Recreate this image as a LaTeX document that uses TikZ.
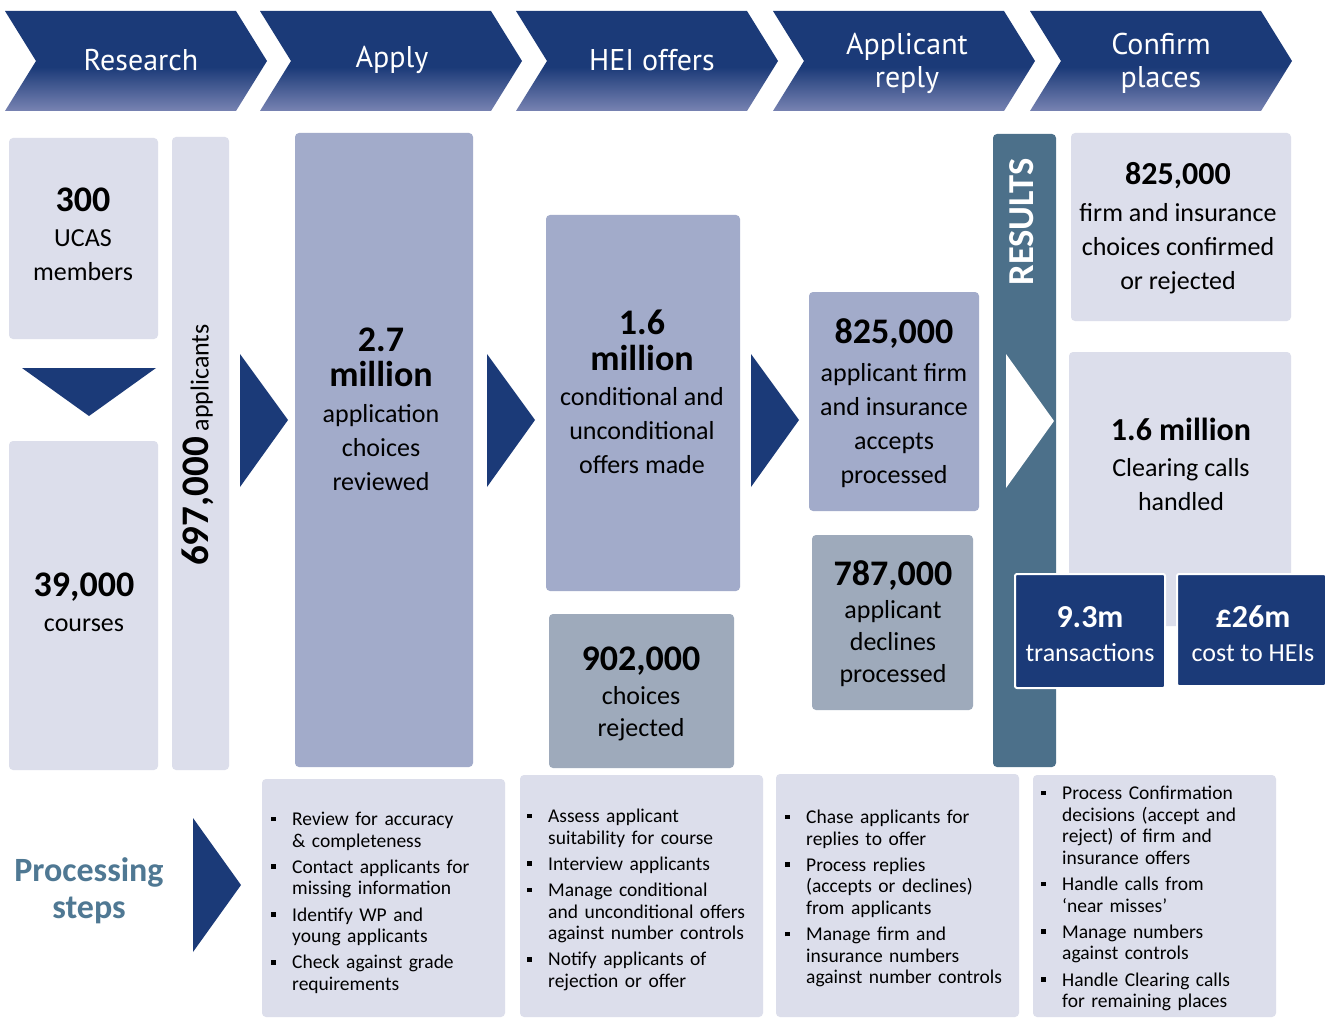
\documentclass[tikz,border=0pt]{standalone}
\usepackage{fontspec}
\setmainfont{Carlito}
\newfontfamily\hdrfont{PT Sans}

\definecolor{navy}{HTML}{1B3A78}
\definecolor{chevlo}{HTML}{7883B2}
\definecolor{lav}{HTML}{DCDEEB}
\definecolor{midlav}{HTML}{A2ABCA}
\definecolor{greyblue}{HTML}{9EAABB}
\definecolor{steel}{HTML}{4C708A}
\definecolor{steeltext}{HTML}{4F7893}

% header chevrons: solid navy on top, fading lighter towards the bottom
\pgfdeclareverticalshading{chevshade}{100bp}{color(0bp)=(chevlo); color(25bp)=(chevlo); color(47bp)=(navy); color(100bp)=(navy)}

\newcommand\chev[1]{\shade[shading=chevshade] (#1,11) -- ++(231,0) -- ++(31,50) -- ++(-31,50) -- ++(-231,0) -- ++(31,-50) -- cycle;}
\newcommand\mkbox[6]{\node[bx,fill=#2,minimum width={#5-#3},minimum height={#6-#4}] (#1) at ({(#3+#5)/2},{(#4+#6)/2}) {};}
\newcommand\bignum[1]{{\fontsize{36}{40}\selectfont\bfseries #1}}
\newcommand\midnum[1]{{\fontsize{32}{36}\selectfont\bfseries #1}}
\newcommand\pitem[1]{\par\hangindent=21pt\hangafter=1\noindent\makebox[21pt][l]{\raisebox{4.3pt}{\rule{4.5pt}{4.5pt}}}#1}

\tikzset{
  bx/.style={rounded corners=4pt, inner sep=0pt, outer sep=0pt},
  hdr/.style={text=white, font=\hdrfont\fontsize{30}{33}\selectfont, align=center, inner sep=0pt},
  stat/.style={align=center, inner sep=0pt, font=\fontsize{26}{34}\selectfont},
  statlow/.style={align=center, inner sep=0pt, font=\fontsize{26}{32}\selectfont},
  steps/.style={anchor=north west, text width=245pt, inner sep=0pt, font=\fontsize{19.5}{21.6}\selectfont},
  bluebox/.style={bx, fill=navy, draw=white, line width=2pt, rounded corners=2pt},
}

\begin{document}
\begin{tikzpicture}[x=1pt,y=-1pt]
\fill[white] (0,0) rectangle (1333,1019);
\useasboundingbox (0,0) rectangle (1333,1019);

% ---- stage header ----
\chev{5}\chev{260}\chev{516}\chev{773}\chev{1030}
\node[hdr] (h1) at (141,60) {Research};
\node[hdr] (h2) at (392,60) {Apply};
\node[hdr] (h3) at (652,60) {HEI offers};
\node[hdr] (h4) at (907,63) {Applicant\\reply};
\node[hdr] (h5) at (1161,63) {Confirm\\places};

% ---- research column ----
\mkbox{members}{lav}{9}{138}{158}{339}
\mkbox{courses}{lav}{9}{441}{158}{770}
\mkbox{applicants}{lav}{172}{137}{229}{770}
\fill[navy] (22,368) -- (156,368) -- (89,416) -- cycle;
\node[stat] (t300) at (83,234) {\bignum{300}\\[1pt]UCAS\\members};
\node[stat] (t39k) at (84,602) {\bignum{39,000}\\[1pt]courses};
\node[rotate=90, inner sep=0pt, font=\fontsize{26}{30}\selectfont] (tapp) at (198,445) {{\fontsize{39}{42}\selectfont\bfseries 697,000} applicants};
\fill[navy] (240,354) -- (288,420) -- (240,487) -- cycle;

% ---- apply ----
\mkbox{reviewed}{midlav}{295}{133}{473}{767}
\node[stat] (t27) at (381,409) {\bignum{2.7}\\[1.5pt]\bignum{million}\\[1.5pt]application\\choices\\reviewed};
\fill[navy] (487,354) -- (535,420) -- (487,487) -- cycle;

% ---- HEI offers ----
\mkbox{offers}{midlav}{546}{215}{740}{591}
\mkbox{rejected}{greyblue}{549}{614}{734}{768}
\node[stat] (t16) at (642,392) {\bignum{1.6}\\[1.5pt]\bignum{million}\\[1.5pt]conditional and\\unconditional\\offers made};
\node[statlow] (t902) at (641,694) {\bignum{902,000}\\[2pt]choices\\rejected};
\fill[navy] (751,354) -- (799,420) -- (751,487) -- cycle;

% ---- applicant reply ----
\mkbox{accepts}{midlav}{809}{292}{979}{511}
\mkbox{declines}{greyblue}{812}{535}{973}{710}
\node[stat] (t825a) at (894,403) {\bignum{825,000}\\[4pt]applicant firm\\and insurance\\accepts\\processed};
\node[statlow] (t787) at (893,624) {\bignum{787,000}\\[1pt]applicant\\declines\\processed};

% ---- results ----
\mkbox{resbar}{steel}{993}{134}{1056}{767}
\node[rotate=90, text=white, inner sep=0pt, font=\fontsize{36.5}{40}\selectfont\bfseries] (tres) at (1022,222) {RESULTS};
\fill[white] (1006,354) -- (1054,421) -- (1006,488) -- cycle;
\mkbox{confirmed}{lav}{1071}{133}{1291}{321}
\mkbox{clearing}{lav}{1069}{352}{1291}{626}
\node[stat] (t825b) at (1178,228) {\midnum{825,000}\\[3pt]firm and insurance\\choices confirmed\\or rejected};
\node[stat] (t16b) at (1181,464) {\midnum{1.6 million}\\[2pt]Clearing calls\\handled};
\node[bluebox, minimum width=150, minimum height=114] (trans) at (1090,631) {};
\node[bluebox, minimum width=149, minimum height=112] (cost) at (1251.5,630) {};
\node[stat, text=white] (t93) at (1090,634) {\midnum{9.3m}\\transactions};
\node[stat, text=white] (t26) at (1253,634) {\midnum{£26m}\\cost to HEIs};

% ---- processing steps ----
\node[align=center, inner sep=0pt, text=steeltext, font=\fontsize{34}{37}\selectfont\bfseries] (tproc) at (89,891) {Processing\\steps};
\fill[navy] (193,818) -- (241,885) -- (193,952) -- cycle;
\mkbox{stepA}{lav}{262}{779}{505}{1017}
\mkbox{stepB}{lav}{520}{775}{763}{1017}
\mkbox{stepC}{lav}{776}{774}{1019}{1017}
\mkbox{stepD}{lav}{1033}{775}{1276}{1017}

\node[steps] (sA) at (271,799) {\setlength\parskip{4.6pt}%
\pitem{Review for accuracy\newline \& completeness}%
\pitem{Contact applicants for\newline missing information}%
\pitem{Identify WP and\newline young applicants}%
\pitem{Check against grade\newline requirements}\par};
\node[steps] (sB) at (527,796) {\setlength\parskip{4.6pt}%
\pitem{Assess applicant\newline suitability for course}%
\pitem{Interview applicants}%
\pitem{Manage conditional\newline and unconditional offers\newline against number controls}%
\pitem{Notify applicants of\newline rejection or offer}\par};
\node[steps] (sC) at (785,797) {\setlength\parskip{4.6pt}%
\pitem{Chase applicants for\newline replies to offer}%
\pitem{Process replies\newline (accepts or declines)\newline from applicants}%
\pitem{Manage firm and\newline insurance numbers\newline against number controls}\par};
\node[steps] (sD) at (1041,773) {\setlength\parskip{4.6pt}%
\pitem{Process Confirmation\newline decisions (accept and\newline reject) of firm and\newline insurance offers}%
\pitem{Handle calls from\newline ‘near misses’}%
\pitem{Manage numbers\newline against controls}%
\pitem{Handle Clearing calls\newline for remaining places}\par};
\end{tikzpicture}
\end{document}
